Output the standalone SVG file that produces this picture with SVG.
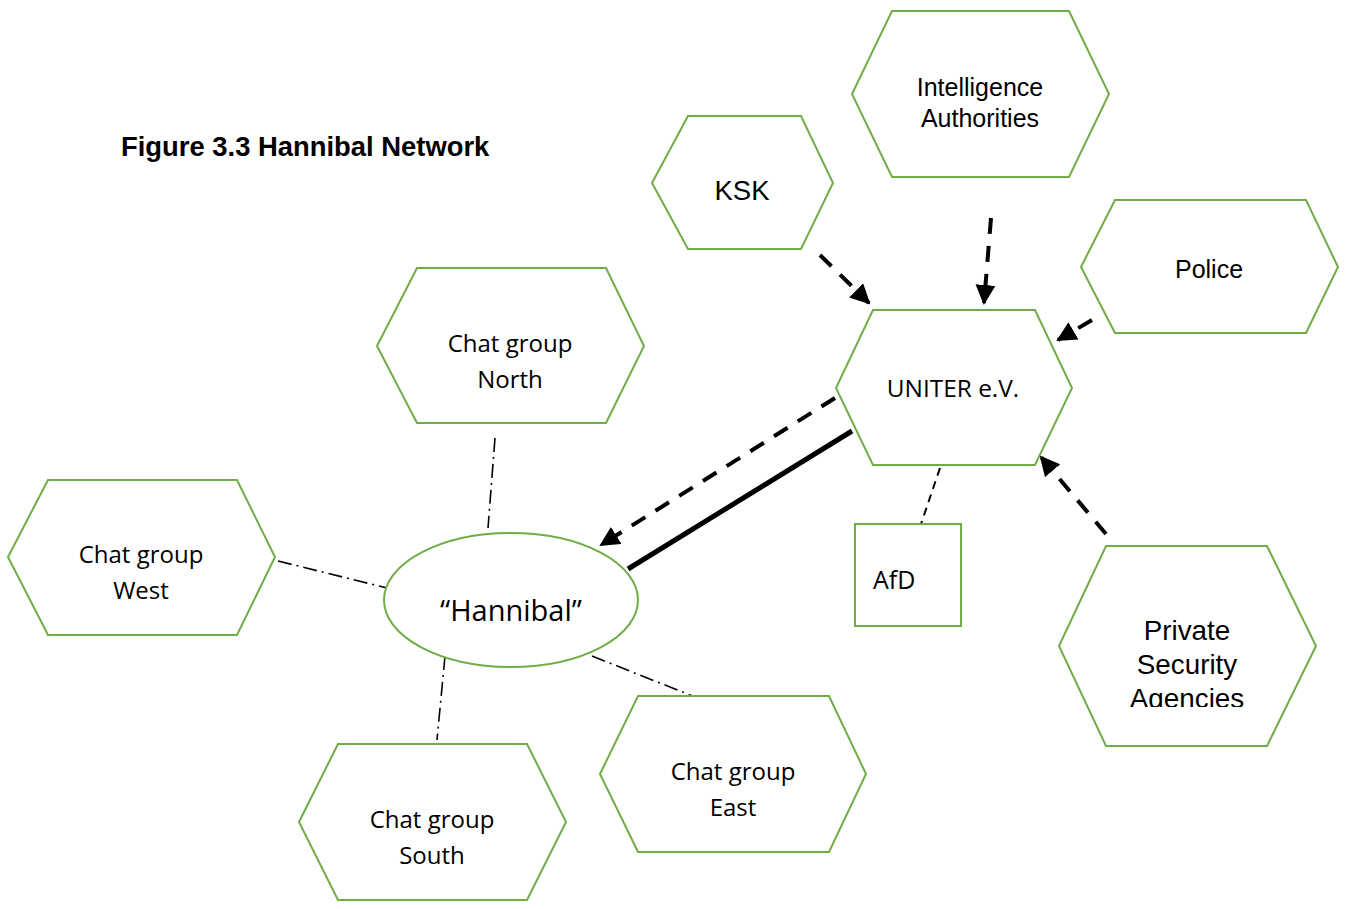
<svg xmlns="http://www.w3.org/2000/svg" width="1346" height="909" viewBox="0 0 1346 909">
<style>
.n{fill:#fff;stroke:#70AD47;stroke-width:2}
.c{font-family:"Open Sans","Liberation Sans",sans-serif;font-size:24px;fill:#000;text-anchor:middle}
.a{font-family:"Liberation Sans",Arial,sans-serif;font-size:25px;fill:#000;text-anchor:middle}
.da{stroke:#000;stroke-width:4;fill:none;stroke-dasharray:16 12;marker-end:url(#ah)}
.dd{stroke:#000;stroke-width:1.6;fill:none;stroke-dasharray:14 5 2 5}
</style>
<defs>
<marker id="ah" viewBox="0 0 10 10" refX="9" refY="5" markerWidth="5" markerHeight="5" orient="auto" markerUnits="strokeWidth">
<path d="M0,0 L10,5 L0,10 z" fill="#000"/>
</marker>
<clipPath id="pclip"><rect x="1050" y="540" width="280" height="167"/></clipPath>
</defs>
<rect width="1346" height="909" fill="#fff"/>
<text x="121" y="156" style="font-family:'Liberation Sans',Arial,sans-serif;font-weight:bold;font-size:27.4px;fill:#000">Figure 3.3 Hannibal Network</text>
<g id="connectors">
<path class="da" d="M820,255 L869,303"/>
<path class="da" d="M991,218 L984,303"/>
<path class="da" d="M1092,320 L1058,340"/>
<path class="da" d="M1106,534 L1041,457"/>
<path class="da" d="M835,398 L601,545"/>
<path d="M852,431 L628,569" stroke="#000" stroke-width="5" fill="none"/>
<path d="M940,468 L921,524" stroke="#000" stroke-width="2" stroke-dasharray="8 6" fill="none"/>
<path class="dd" d="M495,438 L488,528"/>
<path class="dd" d="M278,561 L387,588"/>
<path class="dd" d="M445,656 L437,740"/>
<path class="dd" d="M592,656 L695,697"/>
</g>
<g id="intelligence">
<polygon class="n" points="852,94 892,11 1069,11 1109,94 1069,177 892,177"/>
<text class="a" x="980" y="96">Intelligence</text>
<text class="a" x="980" y="127">Authorities</text>
</g>
<g id="ksk">
<polygon class="n" points="652,183 688,116 801,116 833,183 801,249 688,249"/>
<text class="a" x="742" y="200" style="font-size:27.5px">KSK</text>
</g>
<g id="police">
<polygon class="n" points="1081,267 1115,200 1306,200 1338,267 1306,333 1115,333"/>
<text class="a" x="1209" y="278">Police</text>
</g>
<g id="uniter">
<polygon class="n" points="836,388 873,310 1035,310 1072,388 1035,465 873,465"/>
<text class="c" x="953" y="397" style="font-size:24.4px">UNITER e.V.</text>
</g>
<g id="north">
<polygon class="n" points="377,346 417,268 606,268 644,346 606,423 417,423"/>
<text class="c" x="510" y="352">Chat group</text>
<text class="c" x="510" y="388">North</text>
</g>
<g id="west">
<polygon class="n" points="8,557 48,480 237,480 275,557 237,635 48,635"/>
<text class="c" x="141" y="563">Chat group</text>
<text class="c" x="141" y="599">West</text>
</g>
<g id="south">
<polygon class="n" points="299,822 338,744 527,744 566,822 527,900 338,900"/>
<text class="c" x="432" y="828">Chat group</text>
<text class="c" x="432" y="864">South</text>
</g>
<g id="east">
<polygon class="n" points="600,774 638,696 829,696 866,774 829,852 638,852"/>
<text class="c" x="733" y="780">Chat group</text>
<text class="c" x="733" y="816">East</text>
</g>
<g id="private">
<polygon class="n" points="1059,646 1106,546 1267,546 1316,646 1267,746 1106,746"/>
<g clip-path="url(#pclip)">
<text class="a" x="1187" y="640" style="font-size:27.8px">Private</text>
<text class="a" x="1187" y="674" style="font-size:27.8px">Security</text>
<text class="a" x="1187" y="708" style="font-size:27.8px">Agencies</text>
</g>
</g>
<g id="hannibal">
<ellipse class="n" cx="511" cy="600" rx="127" ry="67"/>
<text class="c" x="511" y="621" style="font-size:29px">“Hannibal”</text>
</g>
<g id="afd">
<rect class="n" x="855" y="524" width="106" height="102"/>
<text class="c" x="873" y="589" style="font-size:25px;text-anchor:start">AfD</text>
</g>
</svg>
